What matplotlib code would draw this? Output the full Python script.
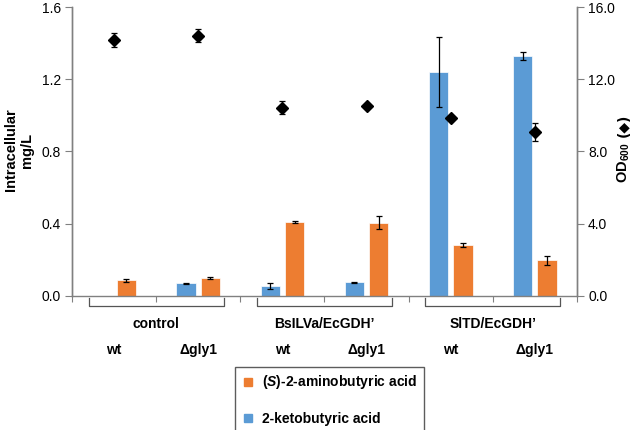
import matplotlib
matplotlib.use("Agg")
import matplotlib.pyplot as plt
import matplotlib.transforms as mtransforms
from matplotlib.lines import Line2D
import numpy as np

plt.rcParams['font.family'] = ['Liberation Sans', 'DejaVu Sans']
plt.rcParams['mathtext.fontset'] = 'custom'
plt.rcParams['mathtext.rm'] = 'Liberation Sans:bold'
plt.rcParams['mathtext.bf'] = 'Liberation Sans:bold'
plt.rcParams['mathtext.it'] = 'Liberation Sans:bold:italic'

groups = ["control", "BsILVa/EcGDH\u2019", "SlTD/EcGDH\u2019"]
strains = ["wt", "\u0394gly1", "wt", "\u0394gly1", "wt", "\u0394gly1"]
keto = [0.0, 0.069, 0.056, 0.074, 1.243, 1.328]
keto_err = [0.0, 0.003, 0.017, 0.004, 0.194, 0.022]
amino = [0.085, 0.098, 0.410, 0.405, 0.282, 0.197]
amino_err = [0.010, 0.005, 0.004, 0.035, 0.010, 0.025]
od = [14.17, 14.43, 10.43, 10.54, 9.88, 9.09]
od_err = [0.40, 0.35, 0.35, 0.08, 0.08, 0.50]

blue = "#5B9BD5"
orange = "#ED7D31"
axcol = "#808080"

fig = plt.figure(figsize=(6.38, 4.30), dpi=100)
ax = fig.add_axes([72/638, (430-295.7)/430, (577-72)/638, 288.4/430])
ax2 = ax.twinx()

x = np.arange(len(strains))
w = 0.23
off = 0.145
ax.bar(x - off, keto, w, color=blue, edgecolor='white', linewidth=0.5, zorder=2)
ax.errorbar(x[1:] - off, keto[1:], yerr=keto_err[1:], fmt='none', ecolor='black',
            elinewidth=0.9, capsize=2, capthick=0.9, zorder=3)
ax.bar(x + off, amino, w, color=orange, edgecolor='white', linewidth=0.5, zorder=2)
ax.errorbar(x + off, amino, yerr=amino_err, fmt='none', ecolor='black',
            elinewidth=0.9, capsize=2, capthick=0.9, zorder=3)
ax2.errorbar(x, od, yerr=od_err, fmt='D', color='black', markersize=6,
             ecolor='black', elinewidth=0.9, capsize=2, capthick=0.9, zorder=4)

ax.set_xlim(-0.5, 5.5)
ax.set_ylim(0, 1.6)
ax2.set_ylim(0, 16)
ax.set_yticks([0.0, 0.4, 0.8, 1.2, 1.6])
ax.set_yticklabels(["0.0", "0.4", "0.8", "1.2", "1.6"])
ax2.set_yticks([0, 4, 8, 12, 16])
ax2.set_yticklabels(["0.0", "4.0", "8.0", "12.0", "16.0"])

ax.set_xticks(np.arange(-0.5, 5.6, 1.0))
ax.set_xticklabels([])
ax.tick_params(axis='x', direction='out', length=4, color=axcol)
ax.tick_params(axis='y', direction='out', length=5, color=axcol, labelsize=10, pad=3)
ax2.tick_params(axis='y', direction='out', length=5, color=axcol, labelsize=10, pad=3)

for a in (ax, ax2):
    a.spines['top'].set_visible(False)
    for s in ('left', 'right', 'bottom'):
        a.spines[s].set_color(axcol)
        a.spines[s].set_linewidth(1.0)
ax2.spines['bottom'].set_visible(False)

fig.text(19/638, 1 - 150/430, "Intracellular\nmg/L", rotation=90, ha='center', va='center',
         fontsize=10.5, fontweight='bold', linespacing=1.15, multialignment='center')
fig.text(624/638, 1 - 163/430, "OD$_{600}$", rotation=90, ha='center', va='center',
         fontsize=10.5, fontweight='bold')
fig.text(624/638, 1 - 137/430, "(\u25C6)", rotation=90, ha='center', va='bottom',
         fontsize=10, fontweight='bold', family='DejaVu Sans')

trans = mtransforms.blended_transform_factory(ax.transData, ax.transAxes)
for gi, g in enumerate(groups):
    c = 2*gi + 0.5
    xs = [c - 0.8, c - 0.8, c + 0.8, c + 0.8]
    ys = [-0.008, -0.036, -0.036, -0.008]
    ax.add_line(Line2D(xs, ys, transform=trans, color='#555555', linewidth=0.9, clip_on=False))
    ax.text(c, -0.097, g, transform=trans, ha='center', va='center',
            fontsize=10, fontweight='bold')
for i, s in enumerate(strains):
    ax.text(i, -0.187, s, transform=trans, ha='center', va='center',
            fontsize=10, fontweight='bold')

handles = [Line2D([], [], marker='s', linestyle='none', color=orange, markersize=5.5),
           Line2D([], [], marker='s', linestyle='none', color=blue, markersize=5.5)]
labels = [r"($\mathit{S}$)-2-aminobutyric acid", "2-ketobutyric acid"]
leg = fig.legend(handles, labels, loc='center left',
                 bbox_to_anchor=(235/638, 1-399.5/430), frameon=True, fancybox=False,
                 prop={'weight': 'bold', 'size': 10}, labelspacing=1.45,
                 handletextpad=0.5, handlelength=1.0, borderpad=0.45, borderaxespad=0)
leg.get_frame().set_edgecolor('#333333')
leg.get_frame().set_linewidth(1.0)

fig.savefig("out.png", dpi=100)
